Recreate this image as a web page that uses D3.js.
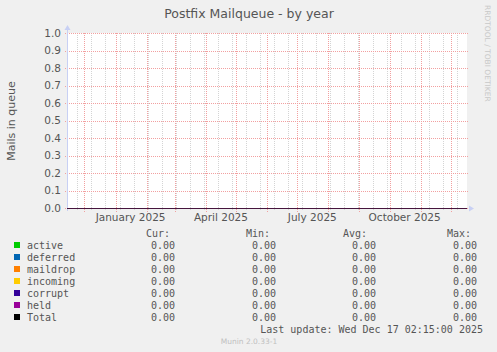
<!DOCTYPE html>
<html>
<head>
<meta charset="utf-8">
<script src="https://cdn.jsdelivr.net/npm/d3@7"></script>
<style>
  body { margin: 0; background: #f0f0f0; }
  svg { display: block; }
</style>
</head>
<body>
<div class="svg-container"></div>
<script>
// chart data
const title = 'Postfix Mailqueue - by year';
const yLabel = 'Mails in queue';
const seriesNames = ['active', 'deferred', 'maildrop', 'incoming', 'corrupt', 'held', 'Total'];
const seriesColours = ['#00cc00', '#0066b3', '#ff8000', '#ffcc00', '#330099', '#990099', '#000000'];
const sampleTimes = ['2024-11-13T16:00:00', '2025-06-01T00:00:00', '2025-12-17T02:15:00'];
const seriesValues = [
  [0, 0, 0],
  [0, 0, 0],
  [0, 0, 0],
  [0, 0, 0],
  [0, 0, 0],
  [0, 0, 0],
  [0, 0, 0]
];
const curValues = ['0.00', '0.00', '0.00', '0.00', '0.00', '0.00', '0.00'];
const minValues = ['0.00', '0.00', '0.00', '0.00', '0.00', '0.00', '0.00'];
const avgValues = ['0.00', '0.00', '0.00', '0.00', '0.00', '0.00', '0.00'];
const maxValues = ['0.00', '0.00', '0.00', '0.00', '0.00', '0.00', '0.00'];
const yTicks = [0, 0.1, 0.2, 0.3, 0.4, 0.5, 0.6, 0.7, 0.8, 0.9, 1.0];
const xLabelMonths = ['2025-01-16', '2025-04-16', '2025-07-16', '2025-10-16'];
const lastUpdate = 'Last update: Wed Dec 17 02:15:00 2025';
const version = 'Munin 2.0.33-1';

const width = 497;
const height = 352;
const plot = { left: 67, right: 467, top: 33, bottom: 208 };

const parse = (s) => new Date(s);
const times = sampleTimes.map(parse);

const x = d3.scaleTime()
  .domain([times[0], times[times.length - 1]])
  .range([plot.left, plot.right]);

const y = d3.scaleLinear()
  .domain([0, 1])
  .range([plot.bottom, plot.top]);

const svg = d3.select('.svg-container')
  .append('svg')
  .attr('width', width)
  .attr('height', height)
  .style('font-family', 'DejaVu Sans, sans-serif');

svg.append('rect')
  .attr('width', width)
  .attr('height', height)
  .attr('fill', '#f0f0f0');

// plot background
svg.append('rect')
  .attr('x', plot.left)
  .attr('y', plot.top)
  .attr('width', plot.right - plot.left)
  .attr('height', plot.bottom - plot.top)
  .attr('fill', '#ffffff');

// dotted grid drawn as single pixels so the colour stays crisp
function dottedV(g, xs, y1, y2, colour) {
  xs.forEach((px) => {
    for (let py = y1; py <= y2; py += 2) {
      g.append('rect')
        .attr('x', px).attr('y', py)
        .attr('width', 1).attr('height', 1)
        .attr('fill', colour);
    }
  });
}
function dottedH(g, ys, x1, x2, colour) {
  ys.forEach((py) => {
    for (let px = x1; px <= x2; px += 2) {
      g.append('rect')
        .attr('x', px).attr('y', py)
        .attr('width', 1).attr('height', 1)
        .attr('fill', colour);
    }
  });
}

// minor grid, every second week
const minorDates = d3.timeSunday.range(new Date(2024, 10, 24), x.domain()[1], 2);
dottedV(svg.append('g'), minorDates.map((d) => Math.round(x(d))), plot.top, plot.bottom + 2, '#d4d4d4');

// horizontal grid
dottedH(svg.append('g'), yTicks.map((d) => Math.round(y(d))), plot.left - 2, plot.right + 1, '#f2a0a0');

// major grid, monthly
const majorDates = d3.timeMonth.range(x.domain()[0], x.domain()[1]);
dottedV(svg.append('g'), majorDates.map((d) => Math.round(x(d))), plot.top, plot.bottom + 3, '#f2a0a0');

// y tick labels
svg.append('g')
  .selectAll('text')
  .data(yTicks)
  .enter()
  .append('text')
  .attr('x', 61)
  .attr('y', (d) => y(d) + 3.5)
  .attr('text-anchor', 'end')
  .attr('font-size', '10.5px')
  .attr('fill', '#555')
  .text((d) => d.toFixed(1));

// x labels
svg.append('g')
  .selectAll('text')
  .data(xLabelMonths.map(parse))
  .enter()
  .append('text')
  .attr('x', (d) => x(d))
  .attr('y', 221)
  .attr('text-anchor', 'middle')
  .attr('font-size', '10.5px')
  .attr('fill', '#555')
  .text(d3.timeFormat('%B %Y'));

// axes
svg.append('rect')
  .attr('x', plot.left)
  .attr('y', plot.top - 4)
  .attr('width', 1)
  .attr('height', plot.bottom - plot.top + 7)
  .attr('fill', '#c8d0f4');
svg.append('path')
  .attr('d', `M${plot.left - 2.5},${plot.top - 3}L${plot.left + 0.5},${plot.top - 8}L${plot.left + 3.5},${plot.top - 3}Z`)
  .attr('fill', '#c8d0f4');
svg.append('path')
  .attr('d', `M${plot.right + 2},${plot.bottom - 2.5}L${plot.right + 7},${plot.bottom + 0.5}L${plot.right + 2},${plot.bottom + 3.5}Z`)
  .attr('fill', '#c8d0f4');

// data lines
const line = d3.line()
  .x((d, i) => x(times[i]))
  .y((d) => Math.round(y(d)) + 0.5);

svg.append('g')
  .selectAll('path')
  .data(seriesValues)
  .enter()
  .append('path')
  .attr('d', (d) => line(d))
  .attr('fill', 'none')
  .attr('stroke', (d, i) => seriesColours[i])
  .attr('stroke-opacity', 0.5);

// title
svg.append('text')
  .attr('x', 249)
  .attr('y', 18)
  .attr('text-anchor', 'middle')
  .attr('font-size', '12.5px')
  .attr('fill', '#555')
  .text(title);

// y label
svg.append('text')
  .attr('transform', 'translate(15,121) rotate(-90)')
  .attr('text-anchor', 'middle')
  .attr('font-size', '11px')
  .attr('fill', '#555')
  .text(yLabel);

// watermark
svg.append('text')
  .attr('transform', 'translate(485,5) rotate(90)')
  .attr('font-size', '7.5px')
  .attr('fill', '#c8c8c8')
  .text('RRDTOOL / TOBI OETIKER');

// legend
const mono = 'DejaVu Sans Mono, monospace';
const legendFont = '10px';
const rowY = (i) => 249 + i * 12;

const headers = [
  { text: 'Cur:', x: 146 },
  { text: 'Min:', x: 246 },
  { text: 'Avg:', x: 343 },
  { text: 'Max:', x: 447 }
];
svg.append('g')
  .selectAll('text')
  .data(headers)
  .enter()
  .append('text')
  .attr('x', (d) => d.x)
  .attr('y', 237)
  .attr('font-family', mono)
  .attr('font-size', legendFont)
  .attr('fill', '#555')
  .text((d) => d.text);

const legend = svg.append('g')
  .selectAll('g')
  .data(seriesNames)
  .enter()
  .append('g');

legend.append('rect')
  .attr('x', 14)
  .attr('y', (d, i) => rowY(i) - 7)
  .attr('width', 6)
  .attr('height', 6)
  .attr('fill', (d, i) => seriesColours[i]);

legend.append('text')
  .attr('x', 27)
  .attr('y', (d, i) => rowY(i))
  .attr('font-family', mono)
  .attr('font-size', legendFont)
  .attr('fill', '#555')
  .text((d) => d);

const columns = [
  { values: curValues, x: 175 },
  { values: minValues, x: 276 },
  { values: avgValues, x: 376 },
  { values: maxValues, x: 477 }
];
columns.forEach((col) => {
  legend.append('text')
    .attr('x', col.x)
    .attr('y', (d, i) => rowY(i))
    .attr('text-anchor', 'end')
    .attr('font-family', mono)
    .attr('font-size', legendFont)
    .attr('fill', '#555')
    .text((d, i) => col.values[i]);
});

svg.append('text')
  .attr('x', 483)
  .attr('y', 333)
  .attr('text-anchor', 'end')
  .attr('font-family', mono)
  .attr('font-size', legendFont)
  .attr('fill', '#555')
  .text(lastUpdate);

svg.append('text')
  .attr('x', 249)
  .attr('y', 344)
  .attr('text-anchor', 'middle')
  .attr('font-size', '7.5px')
  .attr('fill', '#c0c0c0')
  .text(version);
</script>
</body>
</html>
